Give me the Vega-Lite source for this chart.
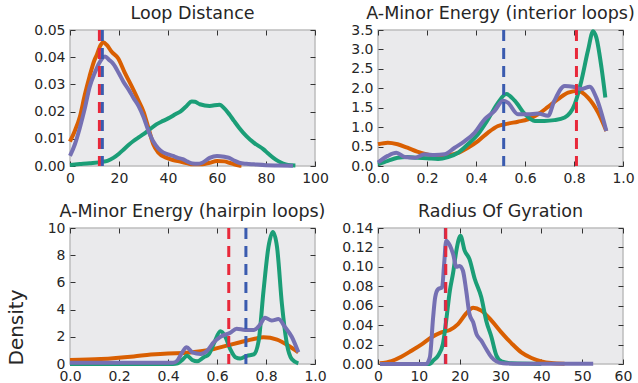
{
"$schema": "https://vega.github.io/schema/vega-lite/v6.json",
"padding": {"left": 5, "top": 3, "right": 5, "bottom": 0},
"background": "white",
"columns": 2,
"bounds": "flush",
"spacing": {"row": 62, "column": 63},
"datasets": {
"p1": [
{"s":"orange","x":0,"y":0.009},{"s":"orange","x":2,"y":0.013},{"s":"orange","x":4,"y":0.018},{"s":"orange","x":6,"y":0.026},{"s":"orange","x":8,"y":0.033},{"s":"orange","x":10,"y":0.039},{"s":"orange","x":11,"y":0.041},{"s":"orange","x":12.5,"y":0.0445},{"s":"orange","x":13.6,"y":0.0455},{"s":"orange","x":15,"y":0.0445},{"s":"orange","x":17,"y":0.042},{"s":"orange","x":19.7,"y":0.0395},{"s":"orange","x":22,"y":0.035},{"s":"orange","x":25.9,"y":0.028},{"s":"orange","x":28,"y":0.024},{"s":"orange","x":30,"y":0.020},{"s":"orange","x":32,"y":0.014},{"s":"orange","x":34,"y":0.008},{"s":"orange","x":36,"y":0.005},{"s":"orange","x":39.5,"y":0.003},{"s":"orange","x":42,"y":0.0022},{"s":"orange","x":45,"y":0.0016},{"s":"orange","x":48,"y":0.001},{"s":"orange","x":50,"y":0.0006},{"s":"orange","x":54,"y":0.0006},{"s":"orange","x":57,"y":0.0012},{"s":"orange","x":60,"y":0.0018},{"s":"orange","x":63,"y":0.0017},{"s":"orange","x":65,"y":0.0012},{"s":"orange","x":67,"y":0.0006},{"s":"orange","x":69,"y":0.0002},{"s":"orange","x":70,"y":0.0001},
{"s":"green","x":0,"y":0.0004},{"s":"green","x":4,"y":0.0007},{"s":"green","x":8,"y":0.001},{"s":"green","x":13.6,"y":0.0016},{"s":"green","x":15.5,"y":0.002},{"s":"green","x":17.7,"y":0.003},{"s":"green","x":20,"y":0.0045},{"s":"green","x":21.8,"y":0.006},{"s":"green","x":24,"y":0.0078},{"s":"green","x":25.9,"y":0.0092},{"s":"green","x":28,"y":0.0105},{"s":"green","x":30,"y":0.0117},{"s":"green","x":33,"y":0.0138},{"s":"green","x":35.4,"y":0.0154},{"s":"green","x":38,"y":0.0166},{"s":"green","x":40.8,"y":0.0178},{"s":"green","x":43,"y":0.019},{"s":"green","x":45,"y":0.020},{"s":"green","x":47.5,"y":0.022},{"s":"green","x":49.7,"y":0.0237},{"s":"green","x":51,"y":0.0236},{"s":"green","x":53,"y":0.0227},{"s":"green","x":57,"y":0.0221},{"s":"green","x":61,"y":0.0225},{"s":"green","x":63,"y":0.0212},{"s":"green","x":65,"y":0.019},{"s":"green","x":67,"y":0.0165},{"s":"green","x":69,"y":0.0141},{"s":"green","x":72,"y":0.011},{"s":"green","x":75,"y":0.0086},{"s":"green","x":79,"y":0.0061},{"s":"green","x":81,"y":0.0045},{"s":"green","x":83,"y":0.003},{"s":"green","x":85,"y":0.0018},{"s":"green","x":87,"y":0.0009},{"s":"green","x":89,"y":0.0004},{"s":"green","x":92,"y":0.0002},
{"s":"purple","x":0,"y":0.0037},{"s":"purple","x":2,"y":0.008},{"s":"purple","x":4,"y":0.014},{"s":"purple","x":6,"y":0.021},{"s":"purple","x":8,"y":0.029},{"s":"purple","x":10,"y":0.034},{"s":"purple","x":12,"y":0.038},{"s":"purple","x":14.3,"y":0.0403},{"s":"purple","x":16,"y":0.039},{"s":"purple","x":17.7,"y":0.0375},{"s":"purple","x":20,"y":0.034},{"s":"purple","x":21.8,"y":0.031},{"s":"purple","x":24,"y":0.028},{"s":"purple","x":25.9,"y":0.025},{"s":"purple","x":28,"y":0.022},{"s":"purple","x":30,"y":0.018},{"s":"purple","x":32,"y":0.013},{"s":"purple","x":34,"y":0.009},{"s":"purple","x":36,"y":0.0065},{"s":"purple","x":38,"y":0.005},{"s":"purple","x":40,"y":0.0043},{"s":"purple","x":42,"y":0.0037},{"s":"purple","x":44,"y":0.003},{"s":"purple","x":46,"y":0.0025},{"s":"purple","x":48,"y":0.0016},{"s":"purple","x":50,"y":0.0009},{"s":"purple","x":52,"y":0.0008},{"s":"purple","x":54,"y":0.0012},{"s":"purple","x":57,"y":0.003},{"s":"purple","x":60,"y":0.0037},{"s":"purple","x":63,"y":0.0034},{"s":"purple","x":65,"y":0.003},{"s":"purple","x":67,"y":0.002},{"s":"purple","x":69,"y":0.0012},{"s":"purple","x":72,"y":0.0008},{"s":"purple","x":75,"y":0.0006},{"s":"purple","x":80,"y":0.0003},{"s":"purple","x":85,"y":0.0002},{"s":"purple","x":91,"y":0.0001}
],
"r1": [{"s":"red","x":12.0},{"s":"blue","x":13.2}],
"p2": [
{"s":"orange","x":0,"y":0.56},{"s":"orange","x":0.04,"y":0.60},{"s":"orange","x":0.08,"y":0.56},{"s":"orange","x":0.12,"y":0.47},{"s":"orange","x":0.16,"y":0.37},{"s":"orange","x":0.2,"y":0.30},{"s":"orange","x":0.245,"y":0.26},{"s":"orange","x":0.286,"y":0.28},{"s":"orange","x":0.327,"y":0.34},{"s":"orange","x":0.367,"y":0.47},{"s":"orange","x":0.408,"y":0.64},{"s":"orange","x":0.449,"y":0.86},{"s":"orange","x":0.49,"y":1.03},{"s":"orange","x":0.53,"y":1.09},{"s":"orange","x":0.571,"y":1.14},{"s":"orange","x":0.612,"y":1.20},{"s":"orange","x":0.653,"y":1.33},{"s":"orange","x":0.694,"y":1.52},{"s":"orange","x":0.735,"y":1.72},{"s":"orange","x":0.776,"y":1.89},{"s":"orange","x":0.816,"y":1.93},{"s":"orange","x":0.857,"y":1.76},{"s":"orange","x":0.898,"y":1.38},{"s":"orange","x":0.932,"y":0.90},
{"s":"green","x":0,"y":0.04},{"s":"green","x":0.04,"y":0.13},{"s":"green","x":0.08,"y":0.21},{"s":"green","x":0.12,"y":0.23},{"s":"green","x":0.16,"y":0.21},{"s":"green","x":0.2,"y":0.20},{"s":"green","x":0.245,"y":0.18},{"s":"green","x":0.286,"y":0.23},{"s":"green","x":0.327,"y":0.34},{"s":"green","x":0.367,"y":0.56},{"s":"green","x":0.408,"y":0.82},{"s":"green","x":0.449,"y":1.20},{"s":"green","x":0.49,"y":1.63},{"s":"green","x":0.524,"y":1.85},{"s":"green","x":0.558,"y":1.68},{"s":"green","x":0.6,"y":1.33},{"s":"green","x":0.64,"y":1.16},{"s":"green","x":0.68,"y":1.16},{"s":"green","x":0.72,"y":1.18},{"s":"green","x":0.762,"y":1.25},{"s":"green","x":0.803,"y":1.59},{"s":"green","x":0.83,"y":2.19},{"s":"green","x":0.857,"y":2.97},{"s":"green","x":0.878,"y":3.47},{"s":"green","x":0.891,"y":3.31},{"s":"green","x":0.912,"y":2.54},{"s":"green","x":0.928,"y":1.76},
{"s":"purple","x":0,"y":0.09},{"s":"purple","x":0.04,"y":0.26},{"s":"purple","x":0.075,"y":0.34},{"s":"purple","x":0.109,"y":0.23},{"s":"purple","x":0.15,"y":0.21},{"s":"purple","x":0.19,"y":0.30},{"s":"purple","x":0.231,"y":0.28},{"s":"purple","x":0.272,"y":0.30},{"s":"purple","x":0.313,"y":0.47},{"s":"purple","x":0.354,"y":0.64},{"s":"purple","x":0.395,"y":0.86},{"s":"purple","x":0.435,"y":1.20},{"s":"purple","x":0.476,"y":1.42},{"s":"purple","x":0.51,"y":1.68},{"s":"purple","x":0.53,"y":1.63},{"s":"purple","x":0.571,"y":1.33},{"s":"purple","x":0.612,"y":1.33},{"s":"purple","x":0.653,"y":1.35},{"s":"purple","x":0.694,"y":1.29},{"s":"purple","x":0.72,"y":1.68},{"s":"purple","x":0.762,"y":2.06},{"s":"purple","x":0.796,"y":2.04},{"s":"purple","x":0.83,"y":1.98},{"s":"purple","x":0.864,"y":2.04},{"s":"purple","x":0.891,"y":1.76},{"s":"purple","x":0.932,"y":0.90}
],
"r2": [{"s":"blue","x":0.513},{"s":"red","x":0.81}],
"p3": [
{"s":"orange","x":0,"y":0.29},{"s":"orange","x":0.126,"y":0.37},{"s":"orange","x":0.26,"y":0.56},{"s":"orange","x":0.33,"y":0.69},{"s":"orange","x":0.4,"y":0.78},{"s":"orange","x":0.465,"y":0.81},{"s":"orange","x":0.533,"y":0.93},{"s":"orange","x":0.587,"y":1.1},{"s":"orange","x":0.64,"y":1.35},{"s":"orange","x":0.695,"y":1.6},{"s":"orange","x":0.75,"y":1.84},{"s":"orange","x":0.79,"y":1.96},{"s":"orange","x":0.845,"y":1.79},{"s":"orange","x":0.885,"y":1.42},{"s":"orange","x":0.932,"y":0.86},
{"s":"green","x":0,"y":0},{"s":"green","x":0.42,"y":0},{"s":"green","x":0.44,"y":0.05},{"s":"green","x":0.458,"y":0.3},{"s":"green","x":0.478,"y":0.6},{"s":"green","x":0.499,"y":0.3},{"s":"green","x":0.519,"y":0.2},{"s":"green","x":0.546,"y":0.5},{"s":"green","x":0.566,"y":0.7},{"s":"green","x":0.587,"y":1.5},{"s":"green","x":0.614,"y":2.4},{"s":"green","x":0.634,"y":2.0},{"s":"green","x":0.654,"y":1.1},{"s":"green","x":0.675,"y":0.5},{"s":"green","x":0.695,"y":0.4},{"s":"green","x":0.722,"y":0.6},{"s":"green","x":0.75,"y":0.7},{"s":"green","x":0.77,"y":1.7},{"s":"green","x":0.79,"y":5.4},{"s":"green","x":0.81,"y":8.6},{"s":"green","x":0.828,"y":9.7},{"s":"green","x":0.845,"y":8.6},{"s":"green","x":0.865,"y":4.4},{"s":"green","x":0.885,"y":1.5},{"s":"green","x":0.905,"y":0.37},{"s":"green","x":0.932,"y":0.05},
{"s":"purple","x":0,"y":0.1},{"s":"purple","x":0.2,"y":0.1},{"s":"purple","x":0.42,"y":0.1},{"s":"purple","x":0.438,"y":0.25},{"s":"purple","x":0.458,"y":0.86},{"s":"purple","x":0.476,"y":1.23},{"s":"purple","x":0.499,"y":0.86},{"s":"purple","x":0.533,"y":0.74},{"s":"purple","x":0.56,"y":0.98},{"s":"purple","x":0.587,"y":1.6},{"s":"purple","x":0.614,"y":2.0},{"s":"purple","x":0.654,"y":2.3},{"s":"purple","x":0.68,"y":2.6},{"s":"purple","x":0.715,"y":2.5},{"s":"purple","x":0.75,"y":2.5},{"s":"purple","x":0.776,"y":2.9},{"s":"purple","x":0.796,"y":3.4},{"s":"purple","x":0.823,"y":3.2},{"s":"purple","x":0.851,"y":3.3},{"s":"purple","x":0.878,"y":2.7},{"s":"purple","x":0.905,"y":2.0},{"s":"purple","x":0.932,"y":0.86}
],
"r3": [{"s":"red","x":0.648},{"s":"blue","x":0.718}],
"p4": [
{"s":"orange","x":0.4,"y":0.0007},{"s":"orange","x":3.3,"y":0.003},{"s":"orange","x":5.7,"y":0.0075},{"s":"orange","x":8.2,"y":0.0137},{"s":"orange","x":10.6,"y":0.020},{"s":"orange","x":13.1,"y":0.0275},{"s":"orange","x":15.5,"y":0.0326},{"s":"orange","x":17.6,"y":0.035},{"s":"orange","x":19.6,"y":0.041},{"s":"orange","x":21.6,"y":0.052},{"s":"orange","x":23.3,"y":0.058},{"s":"orange","x":25.3,"y":0.055},{"s":"orange","x":27.8,"y":0.0446},{"s":"orange","x":30.2,"y":0.0326},{"s":"orange","x":32.7,"y":0.0213},{"s":"orange","x":35.1,"y":0.012},{"s":"orange","x":37.6,"y":0.0062},{"s":"orange","x":40,"y":0.0027},{"s":"orange","x":42.4,"y":0.001},{"s":"orange","x":45.7,"y":0.0003},
{"s":"green","x":0.5,"y":0},{"s":"green","x":12.7,"y":0},{"s":"green","x":13.5,"y":0.0034},{"s":"green","x":14.7,"y":0.0086},{"s":"green","x":15.9,"y":0.0206},{"s":"green","x":16.7,"y":0.0446},{"s":"green","x":17.6,"y":0.0755},{"s":"green","x":18.4,"y":0.094},{"s":"green","x":19.2,"y":0.117},{"s":"green","x":20.2,"y":0.132},{"s":"green","x":21.2,"y":0.117},{"s":"green","x":22.4,"y":0.108},{"s":"green","x":23.7,"y":0.0875},{"s":"green","x":25.3,"y":0.0686},{"s":"green","x":26.5,"y":0.0446},{"s":"green","x":27.8,"y":0.0275},{"s":"green","x":29,"y":0.0086},{"s":"green","x":30.2,"y":0.0027},{"s":"green","x":32.7,"y":0.0007},{"s":"green","x":40,"y":0.0001},
{"s":"purple","x":0.5,"y":0},{"s":"purple","x":11.8,"y":0},{"s":"purple","x":12.7,"y":0.0069},{"s":"purple","x":13.5,"y":0.048},{"s":"purple","x":14,"y":0.0686},{"s":"purple","x":14.7,"y":0.077},{"s":"purple","x":15.7,"y":0.079},{"s":"purple","x":16.2,"y":0.103},{"s":"purple","x":16.7,"y":0.127},{"s":"purple","x":17.6,"y":0.122},{"s":"purple","x":18.4,"y":0.113},{"s":"purple","x":19.2,"y":0.100},{"s":"purple","x":20,"y":0.101},{"s":"purple","x":20.8,"y":0.096},{"s":"purple","x":21.6,"y":0.0755},{"s":"purple","x":22.4,"y":0.0515},{"s":"purple","x":23.3,"y":0.043},{"s":"purple","x":24.1,"y":0.031},{"s":"purple","x":25.3,"y":0.024},{"s":"purple","x":26.5,"y":0.0154},{"s":"purple","x":27.8,"y":0.0069},{"s":"purple","x":29,"y":0.0027},{"s":"purple","x":30.6,"y":0.0007},{"s":"purple","x":34.3,"y":0.0003},{"s":"purple","x":52.7,"y":0.0003}
],
"r4": [{"s":"blue","x":16.5},{"s":"red","x":16.6}]
},
"concat": [
{
"width": 245, "height": 136,
"title": "Loop Distance",
"layer": [
{"data": {"name": "p1"}, "mark": {"type": "line", "strokeWidth": 4, "interpolate": "monotone"},
 "encoding": {
  "x": {"field": "x", "type": "quantitative", "title": null, "scale": {"domain": [0, 100], "nice": false, "zero": false}, "axis": {"orient": "bottom", "values": [0, 20, 40, 60, 80, 100], "format": "d"}},
  "y": {"field": "y", "type": "quantitative", "title": null, "scale": {"domain": [0, 0.05], "nice": false}, "axis": {"orient": "left", "values": [0, 0.01, 0.02, 0.03, 0.04, 0.05], "format": ".2f"}},
  "color": {"field": "s", "type": "nominal", "legend": null, "scale": {"domain": ["orange", "green", "purple", "red", "blue"], "range": ["#D95F02", "#1B9E77", "#7570B3", "#E8283A", "#3A5BAF"]}}
 }},
{"data": {"name": "r1"}, "mark": {"type": "rule", "strokeWidth": 3, "strokeDash": [11, 7]},
 "encoding": {
  "x": {"field": "x", "type": "quantitative", "title": null, "axis": {"orient": "top", "labels": false, "values": [0, 20, 40, 60, 80, 100]}},
  "color": {"field": "s", "type": "nominal", "legend": null, "scale": {"domain": ["orange", "green", "purple", "red", "blue"], "range": ["#D95F02", "#1B9E77", "#7570B3", "#E8283A", "#3A5BAF"]}}
 }},
{"data": {"name": "p1"}, "mark": {"type": "point", "opacity": 0},
 "encoding": {
  "x": {"field": "x", "type": "quantitative", "axis": null},
  "y": {"field": "y", "type": "quantitative", "title": null, "axis": {"orient": "right", "labels": false, "values": [0, 0.01, 0.02, 0.03, 0.04, 0.05]}}
 }}
]
},
{
"width": 245, "height": 136,
"title": "A-Minor Energy (interior loops)",
"layer": [
{"data": {"name": "p2"}, "mark": {"type": "line", "strokeWidth": 4, "interpolate": "monotone"},
 "encoding": {
  "x": {"field": "x", "type": "quantitative", "title": null, "scale": {"domain": [0, 1], "nice": false, "zero": false}, "axis": {"orient": "bottom", "values": [0, 0.2, 0.4, 0.6, 0.8, 1.0], "format": ".1f"}},
  "y": {"field": "y", "type": "quantitative", "title": null, "scale": {"domain": [0, 3.5], "nice": false}, "axis": {"orient": "left", "values": [0, 0.5, 1, 1.5, 2, 2.5, 3, 3.5], "format": ".1f"}},
  "color": {"field": "s", "type": "nominal", "legend": null, "scale": {"domain": ["orange", "green", "purple", "red", "blue"], "range": ["#D95F02", "#1B9E77", "#7570B3", "#E8283A", "#3A5BAF"]}}
 }},
{"data": {"name": "r2"}, "mark": {"type": "rule", "strokeWidth": 3, "strokeDash": [11, 7]},
 "encoding": {
  "x": {"field": "x", "type": "quantitative", "title": null, "axis": {"orient": "top", "labels": false, "values": [0, 0.2, 0.4, 0.6, 0.8, 1.0]}},
  "color": {"field": "s", "type": "nominal", "legend": null, "scale": {"domain": ["orange", "green", "purple", "red", "blue"], "range": ["#D95F02", "#1B9E77", "#7570B3", "#E8283A", "#3A5BAF"]}}
 }},
{"data": {"name": "p2"}, "mark": {"type": "point", "opacity": 0},
 "encoding": {
  "x": {"field": "x", "type": "quantitative", "axis": null},
  "y": {"field": "y", "type": "quantitative", "title": null, "axis": {"orient": "right", "labels": false, "values": [0, 0.5, 1, 1.5, 2, 2.5, 3, 3.5]}}
 }}
]
},
{
"width": 245, "height": 136,
"title": "A-Minor Energy (hairpin loops)",
"layer": [
{"data": {"name": "p3"}, "mark": {"type": "line", "strokeWidth": 4, "interpolate": "monotone"},
 "encoding": {
  "x": {"field": "x", "type": "quantitative", "title": null, "scale": {"domain": [0, 1], "nice": false, "zero": false}, "axis": {"orient": "bottom", "values": [0, 0.2, 0.4, 0.6, 0.8, 1.0], "format": ".1f"}},
  "y": {"field": "y", "type": "quantitative", "title": "Density", "scale": {"domain": [0, 10], "nice": false}, "axis": {"orient": "left", "values": [0, 2, 4, 6, 8, 10], "format": "d", "titleX": -44, "titleY": 99, "titleFontSize": 20, "titleFont": "DejaVu Sans", "titleFontWeight": "normal", "titleColor": "#262626"}},
  "color": {"field": "s", "type": "nominal", "legend": null, "scale": {"domain": ["orange", "green", "purple", "red", "blue"], "range": ["#D95F02", "#1B9E77", "#7570B3", "#E8283A", "#3A5BAF"]}}
 }},
{"data": {"name": "r3"}, "mark": {"type": "rule", "strokeWidth": 3, "strokeDash": [11, 7]},
 "encoding": {
  "x": {"field": "x", "type": "quantitative", "title": null, "axis": {"orient": "top", "labels": false, "values": [0, 0.2, 0.4, 0.6, 0.8, 1.0]}},
  "color": {"field": "s", "type": "nominal", "legend": null, "scale": {"domain": ["orange", "green", "purple", "red", "blue"], "range": ["#D95F02", "#1B9E77", "#7570B3", "#E8283A", "#3A5BAF"]}}
 }},
{"data": {"name": "p3"}, "mark": {"type": "point", "opacity": 0},
 "encoding": {
  "x": {"field": "x", "type": "quantitative", "axis": null},
  "y": {"field": "y", "type": "quantitative", "title": null, "axis": {"orient": "right", "labels": false, "values": [0, 2, 4, 6, 8, 10]}}
 }}
]
},
{
"width": 245, "height": 136,
"title": "Radius Of Gyration",
"layer": [
{"data": {"name": "p4"}, "mark": {"type": "line", "strokeWidth": 4, "interpolate": "monotone"},
 "encoding": {
  "x": {"field": "x", "type": "quantitative", "title": null, "scale": {"domain": [0, 60], "nice": false, "zero": false}, "axis": {"orient": "bottom", "values": [0, 10, 20, 30, 40, 50, 60], "format": "d"}},
  "y": {"field": "y", "type": "quantitative", "title": null, "scale": {"domain": [0, 0.14], "nice": false}, "axis": {"orient": "left", "values": [0, 0.02, 0.04, 0.06, 0.08, 0.1, 0.12, 0.14], "format": ".2f"}},
  "color": {"field": "s", "type": "nominal", "legend": null, "scale": {"domain": ["orange", "green", "purple", "red", "blue"], "range": ["#D95F02", "#1B9E77", "#7570B3", "#E8283A", "#3A5BAF"]}}
 }},
{"data": {"name": "r4"}, "mark": {"type": "rule", "strokeWidth": 3, "strokeDash": [11, 7]},
 "encoding": {
  "x": {"field": "x", "type": "quantitative", "title": null, "axis": {"orient": "top", "labels": false, "values": [0, 10, 20, 30, 40, 50, 60]}},
  "color": {"field": "s", "type": "nominal", "legend": null, "scale": {"domain": ["orange", "green", "purple", "red", "blue"], "range": ["#D95F02", "#1B9E77", "#7570B3", "#E8283A", "#3A5BAF"]}}
 }},
{"data": {"name": "p4"}, "mark": {"type": "point", "opacity": 0},
 "encoding": {
  "x": {"field": "x", "type": "quantitative", "axis": null},
  "y": {"field": "y", "type": "quantitative", "title": null, "axis": {"orient": "right", "labels": false, "values": [0, 0.02, 0.04, 0.06, 0.08, 0.1, 0.12, 0.14]}}
 }}
]
}
],
"config": {
 "font": "DejaVu Sans",
 "view": {"fill": "#EAEAEC", "stroke": "#BDBDBD", "strokeWidth": 1.5},
 "axis": {"domain": false, "grid": false, "ticks": true, "tickSize": -5, "tickColor": "#333333", "tickWidth": 1, "labelFontSize": 14, "labelColor": "#262626", "labelFont": "DejaVu Sans", "labelPadding": 10, "labelFlush": false, "labelOverlap": false},
 "title": {"fontSize": 17.5, "fontWeight": "normal", "color": "#262626", "offset": 1, "font": "DejaVu Sans", "anchor": "middle"}
}
}
